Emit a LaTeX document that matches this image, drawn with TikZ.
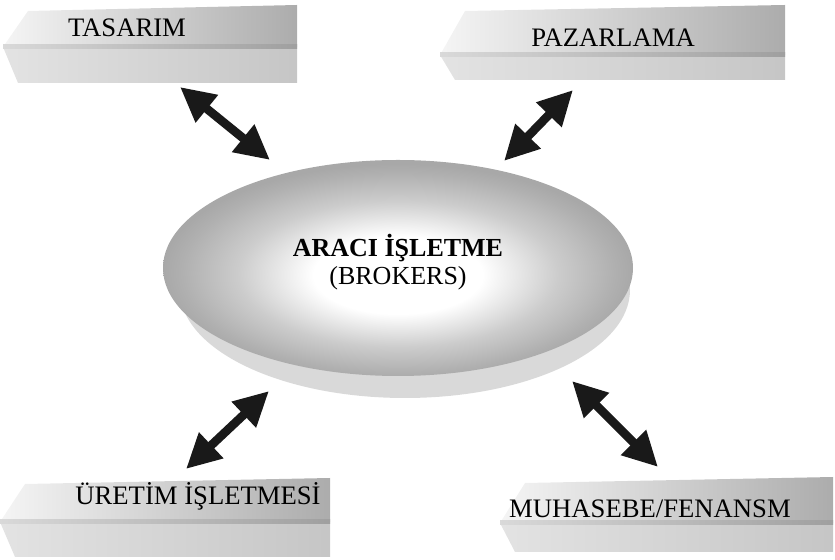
\documentclass[tikz,border=0pt]{standalone}
\usepackage{fontspec}
\setmainfont{Liberation Serif}
\usetikzlibrary{arrows.meta,shapes.geometric}
\pgfdeclareradialshading{brokershade}{\pgfpoint{0bp}{-2bp}}{color(0bp)=(white); color(9bp)=(white); color(17bp)=(gray!40); color(23bp)=(gray!62); color(25bp)=(gray!68); color(50bp)=(gray!68)}
\begin{document}
\begin{tikzpicture}[x=0.75pt,y=0.75pt,
    slabtop/.style={left color=gray!8, right color=gray!65},
    slabfront/.style={left color=gray!22, right color=gray!45},
    slabedge/.style={left color=gray!30, right color=gray!75},
    unit/.style={font=\fontsize{20}{24}\selectfont, anchor=base, inner sep=0pt},
    broker/.style={ellipse, minimum width=352.5pt, minimum height=162pt, inner sep=0pt, shade, shading=brokershade},
    twoway/.style={<->, >={Triangle[length=26pt,width=25pt]}, line width=6.5pt, black!90}]
  \useasboundingbox (0,0) rectangle (835,560);
  % slabs behind the unit names
  \foreach \xa/\xb/\yt/\yb/\yd in {3/297/555/513/477, 440/785/555/505/480, 0/330/82/38/3, 500/833/83/37/8}{
    \shade[slabtop] (\xa,\yb) -- ({\xa+25},{\yt-6}) -- (\xb,\yt) -- (\xb,\yb) -- cycle;
    \shade[slabfront] (\xa,\yb) -- (\xb,\yb) -- (\xb,\yd) -- ({\xa+15},\yd) -- cycle;
    \shade[slabedge] (\xa,{\yb-2}) rectangle (\xb,{\yb+2});
  }
  % unit names
  \node[unit] (tasarim) at (127,523) {TASARIM};
  \node[unit] (pazarlama) at (613,513) {PAZARLAMA};
  \node[unit] (uretim) at (198,55) {ÜRETİM İŞLETMESİ};
  \node[unit] (muhasebe) at (650,42) {MUHASEBE/FENANSM};
  % broker in the middle, with its shadow
  \fill[gray!30] (405,270) ellipse [x radius=225, y radius=108];
  \node[broker] (araci) at (398,292) {};
  \node[align=center, font=\fontsize{19.5}{21}\selectfont] (aracilabel) at (398,297.5) {\textbf{ARACI İŞLETME}\\(BROKERS)};
  % arrow ends
  \coordinate (tasarim-end) at (180,473);
  \coordinate (araci-nw) at (270,400);
  \coordinate (pazarlama-end) at (573,470);
  \coordinate (araci-ne) at (504,399);
  \coordinate (uretim-end) at (186,91);
  \coordinate (araci-sw) at (269,169);
  \coordinate (muhasebe-end) at (658,93);
  \coordinate (araci-se) at (572,179);
  \draw[twoway] (tasarim-end) -- (araci-nw);
  \draw[twoway] (pazarlama-end) -- (araci-ne);
  \draw[twoway] (uretim-end) -- (araci-sw);
  \draw[twoway] (muhasebe-end) -- (araci-se);
\end{tikzpicture}
\end{document}
